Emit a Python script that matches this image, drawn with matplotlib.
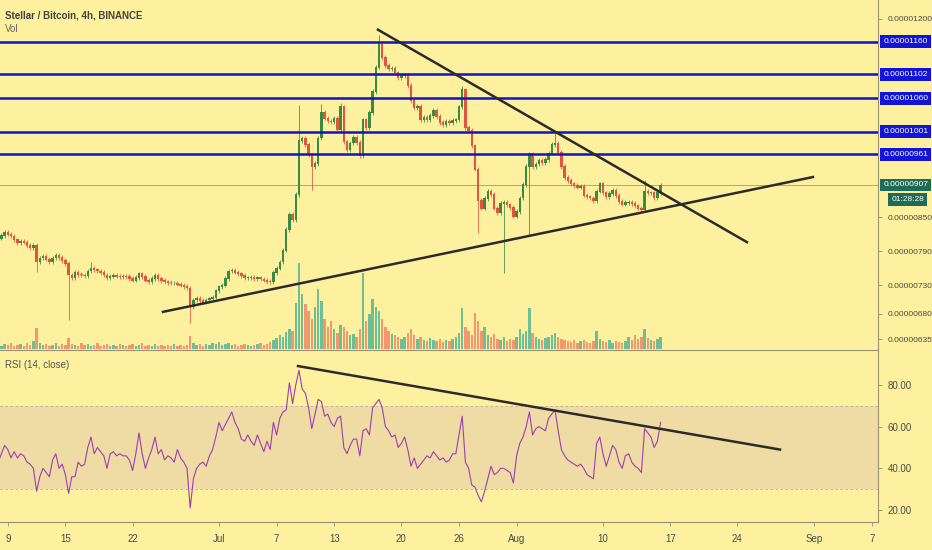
import numpy as np
import pandas as pd
import matplotlib
matplotlib.use('Agg')
import matplotlib.pyplot as plt
import matplotlib.dates as mdates
import matplotlib.transforms as mtrans
from matplotlib import font_manager

# TradingView text is narrow, use the narrow Liberation cut when it is there
names = {f.name for f in font_manager.fontManager.ttflist}
narrow = 'Liberation Sans Narrow' in names
plt.rcParams['font.family'] = ['Liberation Sans Narrow' if narrow else 'Liberation Sans', 'DejaVu Sans']
fs = 7 if narrow else 6

# 8h candles, price in satoshi (1e-8 BTC)
start = '2020-06-08 00:00'
closes = [813, 818, 824, 820, 817, 810, 805, 808, 806, 800, 797, 801, 771, 778, 781, 776,
          771, 778, 783, 779, 774, 768, 748, 743, 752, 749, 748, 747, 755, 760, 757, 755,
          752, 748, 743, 746, 748, 746, 745, 746, 745, 742, 739, 744, 750, 745, 739, 737,
          742, 748, 742, 738, 736, 735, 734, 734, 732, 730, 728, 725, 692, 704, 707, 703,
          700, 704, 706, 709, 720, 727, 730, 742, 755, 756, 753, 750, 747, 743, 743, 744,
          742, 743, 741, 739, 737, 736, 752, 760, 771, 792, 828, 855, 845, 890, 985, 990,
          978, 960, 940, 945, 990, 1035, 1025, 1020, 1018, 1025, 1004, 1045, 983, 969, 981, 991,
          982, 958, 1022, 1008, 1035, 1072, 1115, 1155, 1132, 1118, 1112, 1113, 1105, 1097, 1100, 1100,
          1083, 1056, 1044, 1046, 1022, 1026, 1022, 1030, 1038, 1028, 1017, 1013, 1020, 1017, 1021, 1022,
          1045, 1075, 1008, 1003, 976, 935, 880, 866, 883, 896, 890, 866, 858, 875, 876, 872,
          867, 852, 860, 884, 908, 940, 962, 940, 944, 950, 947, 952, 963, 978, 980, 965,
          940, 920, 915, 909, 906, 903, 905, 889, 886, 884, 880, 896, 909, 893, 886, 892,
          897, 888, 878, 873, 876, 876, 874, 870, 866, 863, 895, 893, 893, 885, 893, 907]

# long wicks
spike_low_idx = [12, 22, 60, 98, 150, 158, 166]
spike_low_val = [753, 669, 663, 898, 822, 752, 819]
spike_high_idx = [29, 94, 101, 107, 119, 145, 174, 202]
spike_high_val = [771, 1048, 1050, 1052, 1172, 1082, 999, 916]

volume = [4, 3, 5, 4, 6, 3, 4, 5, 3, 6, 4, 8, 21, 6, 4, 5,
          3, 4, 6, 3, 5, 4, 11, 5, 4, 3, 6, 4, 5, 3, 4, 6,
          3, 4, 5, 3, 4, 3, 5, 4, 3, 4, 5, 3, 4, 6, 3, 4,
          3, 5, 3, 4, 3, 4, 3, 5, 3, 4, 3, 4, 13, 6, 4, 5,
          3, 5, 4, 6, 5, 7, 4, 5, 6, 4, 5, 3, 4, 5, 4, 3,
          4, 5, 6, 4, 5, 7, 9, 11, 14, 12, 17, 20, 18, 46, 86, 55,
          45, 38, 30, 42, 60, 48, 30, 22, 28, 20, 16, 24, 22, 18, 14, 15,
          12, 20, 76, 28, 35, 50, 42, 38, 30, 22, 18, 15, 14, 12, 10, 12,
          16, 20, 14, 10, 12, 9, 8, 11, 9, 8, 10, 7, 9, 8, 10, 12,
          16, 41, 22, 18, 14, 36, 28, 18, 22, 14, 12, 15, 10, 9, 12, 8,
          10, 9, 12, 20, 15, 18, 41, 16, 12, 10, 9, 11, 12, 14, 16, 12,
          10, 9, 8, 7, 9, 6, 8, 9, 7, 6, 8, 18, 10, 8, 7, 9,
          6, 8, 7, 6, 8, 12, 9, 14, 10, 12, 20, 11, 9, 8, 10, 12]

rsi = [43, 47, 51, 49, 45, 48, 45, 47, 46, 43, 42, 40, 29, 36, 40, 38,
       36, 44, 47, 40, 42, 37, 28, 36, 36, 43, 41, 42, 50, 55, 47, 50,
       48, 46, 40, 47, 48, 46, 47, 46, 46, 44, 39, 47, 57, 47, 40, 45,
       49, 55, 47, 49, 44, 46, 45, 43, 49, 45, 43, 40, 21, 35, 40, 42,
       43, 41, 46, 49, 55, 62, 58, 61, 64, 67, 62, 59, 54, 53, 56, 53,
       51, 56, 52, 48, 53, 49, 62, 56, 64, 67, 68, 81, 71, 80, 87, 78,
       76, 69, 59, 66, 73, 72, 65, 66, 62, 60, 64, 65, 50, 47, 51, 54,
       54, 46, 58, 59, 56, 69, 71, 73, 69, 60, 58, 55, 56, 50, 52, 55,
       49, 41, 45, 40, 42, 44, 46, 45, 48, 46, 44, 45, 43, 44, 47, 47,
       56, 65, 43, 40, 32, 31, 27, 24, 29, 35, 41, 37, 38, 40, 40, 39,
       38, 33, 46, 52, 55, 60, 67, 56, 59, 60, 59, 58, 64, 66, 68, 58,
       49, 46, 44, 43, 42, 41, 42, 40, 37, 36, 35, 52, 55, 47, 41, 46,
       51, 49, 43, 40, 46, 47, 43, 41, 40, 38, 59, 57, 55, 50, 53, 62]

levels = [1160, 1102, 1060, 1001, 961]
last_price = 907
countdown = '01:28:28'
price_ticks = [1200, 850, 790, 730, 680, 635]

# drawn trend lines: (time, value) pairs
support = (['2020-06-25 04:00', '2020-08-31 21:00'], [683, 921])
resistance = (['2020-07-17 13:30', '2020-08-25 00:00'], [1181, 806])
rsi_trend = (['2020-07-09 05:30', '2020-08-28 10:30'], [89, 49])

tick_dates = ['2020-06-09', '2020-06-15', '2020-06-22', '2020-07-01', '2020-07-07', '2020-07-13',
              '2020-07-20', '2020-07-26', '2020-08-01', '2020-08-10', '2020-08-17', '2020-08-24',
              '2020-09-01', '2020-09-07']
tick_labels = ['9', '15', '22', 'Jul', '7', '13', '20', '26', 'Aug', '10', '17', '24', 'Sep', '7']

bg = '#fdf09e'
up_col = '#3a8a44'
dn_col = '#e0553e'
edge = '#9b9170'
txt = '#4a4a4a'

n = len(closes)
t = mdates.date2num(pd.date_range(start, periods=n, freq='8h'))
c = np.array(closes, float)
o = np.r_[c[0] + 3, c[:-1]]
hi = np.maximum(o, c) + 4
lo = np.minimum(o, c) - 4
hi[spike_high_idx] = spike_high_val
lo[spike_low_idx] = spike_low_val
up = c >= o
cols = np.where(up, up_col, dn_col)

fig = plt.figure(figsize=(9.32, 5.5), dpi=100, facecolor=bg)
ax = fig.add_axes([0, 1 - 349 / 550, 878 / 932, 349 / 550], facecolor=bg)
ax2 = fig.add_axes([0, 1 - 522 / 550, 878 / 932, 172 / 550], facecolor=bg, sharex=ax)

# volume overlay
axv = ax.twinx()
axv.set_zorder(ax.get_zorder() - 1)
ax.patch.set_visible(False)
axv.patch.set_facecolor(bg)
vcols = np.where(up, '#3fae92', '#f07a5e')
axv.bar(t, volume, width=0.25, color=vcols, alpha=0.75, linewidth=0)
axv.set_ylim(0, max(volume) * 4.06)
axv.set_yticks([])
for s in axv.spines.values():
    s.set_visible(False)

# candles
ax.vlines(t, lo, hi, colors=cols, lw=0.7, alpha=0.8, zorder=3)
ax.bar(t, np.abs(c - o) + 1.5, bottom=np.minimum(o, c) - 0.75, width=0.27, color=cols,
       linewidth=0, zorder=4)

for lv in levels:
    ax.axhline(lv, color='#1212c8', lw=1.8, zorder=5)
ax.axhline(last_price, color='#8fb29a', lw=0.7, zorder=2)

ax.plot(mdates.datestr2num(support[0]), support[1], color='#2b2b2b', lw=1.8, zorder=6)
ax.plot(mdates.datestr2num(resistance[0]), resistance[1], color='#2b2b2b', lw=1.8, zorder=6)

ax.set_ylim(617.4, 1233.5)
ax.set_xlim(mdates.datestr2num('2020-06-08 04:30'), mdates.datestr2num('2020-09-07 15:30'))
ax.yaxis.tick_right()
ax.set_yticks(price_ticks)
ax.set_yticklabels(['0.%08d' % v for v in price_ticks])
ax.tick_params(axis='y', labelsize=fs, colors=edge, labelcolor=txt, length=3, width=0.6, pad=4)
ax.tick_params(axis='x', bottom=False, labelbottom=False)

ytr = mtrans.blended_transform_factory(ax.transAxes, ax.transData)
for lv in levels:
    ax.text(1.006, lv, '0.%08d' % lv, transform=ytr, ha='left', va='center', fontsize=fs,
            color='white', zorder=10, clip_on=False,
            bbox=dict(boxstyle='square,pad=0.35', fc='#1414d8', ec='none'))
ax.text(1.006, last_price, '0.%08d' % last_price, transform=ytr, ha='left', va='center',
        fontsize=fs, color='white', zorder=10, clip_on=False,
        bbox=dict(boxstyle='square,pad=0.35', fc='#1f6b58', ec='none'))
ax.text(1.015, last_price - 25, countdown, transform=ytr, ha='left', va='center',
        fontsize=fs, color='white', zorder=10, clip_on=False,
        bbox=dict(boxstyle='square,pad=0.35', fc='#1f6b58', ec='none'))

fig.text(5 / 932, 1 - 15 / 550, 'Stellar / Bitcoin, 4h, BINANCE', fontsize=fs + 1,
         fontweight='bold', color='#444444', va='center')
fig.text(5 / 932, 1 - 29 / 550, 'Vol', fontsize=fs + 1, color='#666666', va='center')

# RSI pane
ax2.axhspan(30, 70, color='#efdca4', lw=0, zorder=0)
ax2.axhline(70, color='#b8b0a0', lw=0.6, ls=(0, (3, 3)), zorder=1)
ax2.axhline(30, color='#b8b0a0', lw=0.6, ls=(0, (3, 3)), zorder=1)
ax2.plot(t, rsi, color='#9c3fb0', lw=0.8, zorder=3)
ax2.plot(mdates.datestr2num(rsi_trend[0]), rsi_trend[1], color='#2b2b2b', lw=1.8, zorder=4)
ax2.set_ylim(14.3, 96.7)
ax2.yaxis.tick_right()
ax2.set_yticks([20, 40, 60, 80])
ax2.set_yticklabels(['20.00', '40.00', '60.00', '80.00'])
ax2.tick_params(axis='y', labelsize=fs + 1, colors=edge, labelcolor=txt, length=3, width=0.6, pad=4)
ax2.set_xticks(mdates.datestr2num(tick_dates))
ax2.set_xticklabels(tick_labels)
ax2.tick_params(axis='x', labelsize=fs + 1, colors=edge, labelcolor=txt, length=3, width=0.6, pad=6)
ax2.text(5 / 878, 1 - 15 / 172, 'RSI (14, close)', transform=ax2.transAxes, fontsize=fs + 1,
         color='#555555', va='center')

for a in (ax, ax2):
    a.spines['left'].set_visible(False)
    a.spines['top'].set_visible(a is ax2)
    a.spines['right'].set_color(edge)
    a.spines['bottom'].set_color(edge)
    a.spines['top'].set_color(edge)
    for s in a.spines.values():
        s.set_linewidth(0.8)
ax.spines['bottom'].set_visible(False)

fig.savefig('out.png', dpi=100, facecolor=bg)
